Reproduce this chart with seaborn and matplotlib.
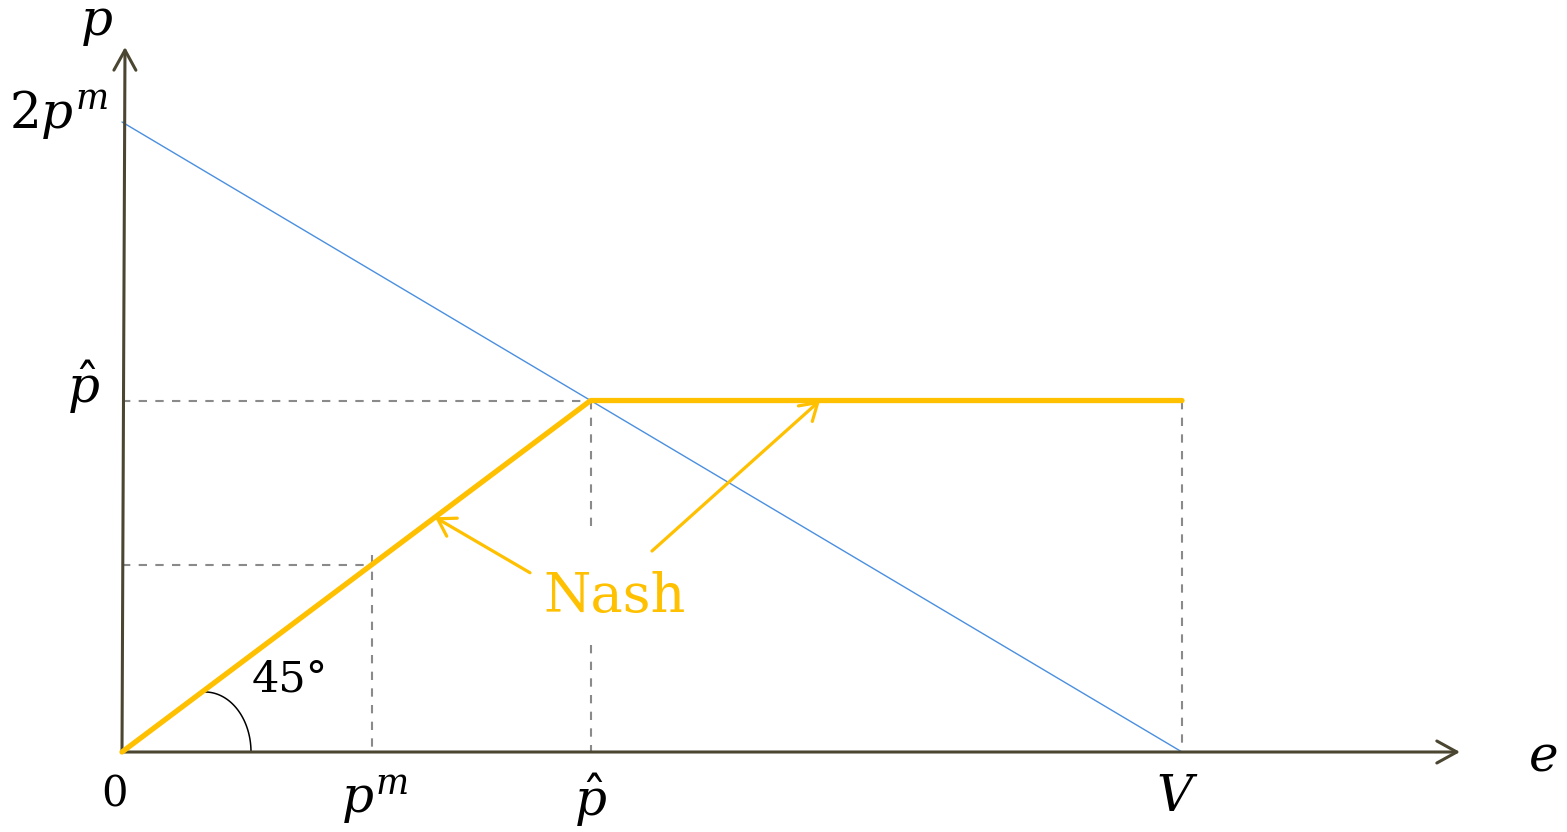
import numpy as np
import matplotlib
matplotlib.use("Agg")
import matplotlib.pyplot as plt
import seaborn as sns

# Model quantities (schematic units)
p_m = 2.5              # monopoly price p^m
demand_intercept = 8.4  # 2p^m on the vertical axis
v_max = 10.6           # V on the horizontal axis
p_hat = demand_intercept * v_max / (demand_intercept + v_max)  # intersection of 45° line and demand

# Axis extents for the hand-drawn arrows
x_axis_end = 13.38
y_axis_end = 9.4

# Blue line: from (0, 2p^m) down to (V, 0)
blue_x = [0.0, v_max]
blue_y = [demand_intercept, 0.0]

# Nash best response: 45° line up to p_hat, then flat until V
nash_x = [0.0, p_hat, v_max]
nash_y = [0.0, p_hat, p_hat]

sns.set_theme(style="white")
plt.rcParams["mathtext.fontset"] = "dejavuserif"
plt.rcParams["font.family"] = ["DejaVu Serif", "DejaVu Sans"]
plt.rcParams["text.color"] = "black"

AXIS_C = "#4B4631"
YELLOW = "#FFC000"
BLUE = "#4A8FE0"
GRAY = "#8A8A8A"

fig = plt.figure(figsize=(15.67, 8.32), dpi=100)
ax = fig.add_axes([0, 0, 1, 1])
ax.set_xlim(-1.22, 14.45)
ax.set_ylim(-80 / 75, 752 / 75)
ax.axis("off")

# Axes with open arrowheads
arrow_style = "->,head_length=0.4,head_width=0.22"
ax.annotate("", xy=(x_axis_end, 0), xytext=(0, 0),
            arrowprops=dict(arrowstyle=arrow_style, lw=2.2, color=AXIS_C,
                            mutation_scale=36, shrinkA=0, shrinkB=0))
ax.annotate("", xy=(0.03, y_axis_end), xytext=(0, 0),
            arrowprops=dict(arrowstyle=arrow_style, lw=2.2, color=AXIS_C,
                            mutation_scale=36, shrinkA=0, shrinkB=0))

# Dashed guide lines
dash_kw = dict(color=GRAY, lw=1.5, dashes=(4, 4), zorder=1)
ax.plot([0, p_hat], [p_hat, p_hat], **dash_kw)
ax.plot([0, p_m], [p_m, p_m], **dash_kw)
ax.plot([p_m, p_m], [p_m + 0.13, 0], **dash_kw)
ax.plot([p_hat, p_hat], [p_hat, 2.96], **dash_kw)
ax.plot([p_hat, p_hat], [1.43, 0], **dash_kw)
ax.plot([v_max, v_max], [p_hat, 0], **dash_kw)

# Demand line and Nash response
sns.lineplot(x=blue_x, y=blue_y, ax=ax, color=BLUE, lw=1.0,
             estimator=None, sort=False, zorder=2)
sns.lineplot(x=nash_x, y=nash_y, ax=ax, color=YELLOW, lw=3.8,
             estimator=None, sort=False, zorder=3)

# 45° angle marker: quarter arc from the yellow line down to the e-axis
theta = np.linspace(0, np.pi / 2, 60)
arc_cx, arc_rx, arc_ry = 0.83, 0.46, 0.80
ax.plot(arc_cx + arc_rx * np.sin(theta), arc_ry * np.cos(theta),
        color="black", lw=1.1, zorder=2)

# Nash arrows pointing at the best-response line
nash_arrow = dict(arrowstyle="->,head_length=0.4,head_width=0.25", lw=2.3,
                  color=YELLOW, mutation_scale=30, shrinkA=0, shrinkB=0)
ax.annotate("", xy=(3.13, 3.13), xytext=(4.08, 2.39), arrowprops=nash_arrow)
ax.annotate("", xy=(6.98, p_hat), xytext=(5.30, 2.68), arrowprops=nash_arrow)

# Labels
ms = 36
ax.text(-0.26, 9.72, r"$p$", fontsize=ms, ha="center", va="center")
ax.text(-0.14, demand_intercept + 0.1, r"$2p^m$", fontsize=ms, ha="right", va="center")
ax.text(-0.39, 4.87, r"$\hat{p}$", fontsize=ms, ha="center", va="center")
ax.text(-0.07, -0.57, "0", fontsize=30, ha="center", va="center")
ax.text(p_m + 0.03, -0.64, r"$p^m$", fontsize=ms, ha="center", va="center")
ax.text(p_hat, -0.64, r"$\hat{p}$", fontsize=ms, ha="center", va="center")
ax.text(v_max - 0.05, -0.6, r"$V$", fontsize=ms, ha="center", va="center")
ax.text(14.21, -0.07, r"$e$", fontsize=ms, ha="center", va="center")
ax.text(1.68, 0.96, "45°", fontsize=31, ha="center", va="center")
ax.text(4.93, 2.07, "Nash", fontsize=39, ha="center", va="center", color=YELLOW)

fig.savefig("out.png", dpi=100)
